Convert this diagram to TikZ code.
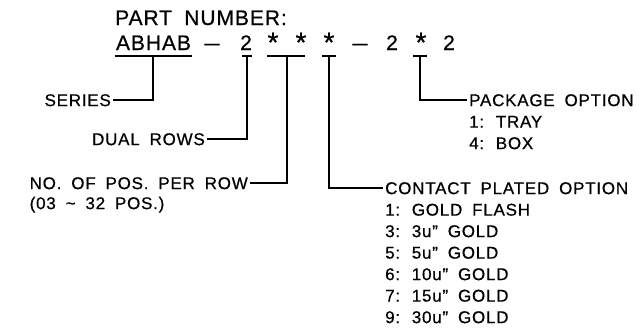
\documentclass[tikz,border=0pt]{standalone}
\usepackage{fontspec}
\setmainfont[LetterSpace=4.5,WordSpace=1.8,FakeBold=0.6]{Liberation Sans}
\begin{document}
\begin{tikzpicture}[x=1pt,y=-1pt,
  lead/.style={line width=1.6pt},
  lbl/.style={inner xsep=2pt, inner ysep=0pt, text height=12.2pt, text depth=0pt,
              font=\fontsize{17}{20}\selectfont},
  big/.style={inner sep=0pt, font=\fontsize{21}{24}\selectfont},
  star/.style={inner sep=0pt, font=\fontsize{28}{30}\selectfont},
  dashchar/.style={big, xscale=1.3}]
\useasboundingbox (0,0) rectangle (644,333);

% title and part number
\node[big, anchor=base west] (title) at (115,25) {PART NUMBER:};
\node[big, anchor=base] (c1) at (153.5,50) {ABHAB};
\node[dashchar, anchor=base] (c2) at (212,50) {–};
\node[big, anchor=base] (c3) at (246,50) {2};
\node[star, anchor=base] (c4) at (273,52) {*};
\node[star, anchor=base] (c5) at (301,52) {*};
\node[star, anchor=base] (c6) at (329,52) {*};
\node[dashchar, anchor=base] (c7) at (360,50) {–};
\node[big, anchor=base] (c8) at (392,50) {2};
\node[star, anchor=base] (c9) at (421,52) {*};
\node[big, anchor=base] (c10) at (449,50) {2};

% bars under the fields
\coordinate (b1l) at (115,56); \coordinate (b1r) at (192,56); \coordinate (b1) at (153,56);
\coordinate (b2l) at (242,56); \coordinate (b2r) at (252,56); \coordinate (b2) at (247,56);
\coordinate (b3l) at (267,56); \coordinate (b3r) at (305,56); \coordinate (b3) at (287,56);
\coordinate (b4l) at (322,56); \coordinate (b4r) at (336,56); \coordinate (b4) at (329,56);
\coordinate (b5l) at (413,56); \coordinate (b5r) at (427,56); \coordinate (b5) at (420,56);
\foreach \i in {1,...,5} { \draw[lead] (b\i l) -- (b\i r); }

% labels
\node[lbl, anchor=east] (series) at (113,100) {SERIES};
\node[lbl, anchor=east] (dual) at (207,139) {DUAL ROWS};
\node[lbl, anchor=east] (nopos) at (250,183) {NO. OF POS. PER ROW};
\node[lbl, anchor=west] (range) at ([yshift=-20pt]nopos.west) {(03 \textasciitilde{} 32 POS.)};

\node[lbl, anchor=west] (pkg) at (467,100) {PACKAGE OPTION};
\node[lbl, anchor=west] (pk1) at ([yshift=-21.5pt]pkg.west) {1: TRAY};
\node[lbl, anchor=west] (pk4) at ([yshift=-21.5pt]pk1.west) {4: BOX};

\node[lbl, anchor=west] (contact) at (383,188) {CONTACT PLATED OPTION};
\node[lbl, anchor=west] (g1) at ([yshift=-21.5pt]contact.west) {1: GOLD FLASH};
\node[lbl, anchor=west] (g3) at ([yshift=-21.5pt]g1.west) {3: 3u” GOLD};
\node[lbl, anchor=west] (g5) at ([yshift=-21.5pt]g3.west) {5: 5u” GOLD};
\node[lbl, anchor=west] (g6) at ([yshift=-21.5pt]g5.west) {6: 10u” GOLD};
\node[lbl, anchor=west] (g7) at ([yshift=-21.5pt]g6.west) {7: 15u” GOLD};
\node[lbl, anchor=west] (g9) at ([yshift=-21.5pt]g7.west) {9: 30u” GOLD};

% leaders
\draw[lead] (b1) |- (series.east);
\draw[lead] (b2) |- (dual.east);
\draw[lead] (b3) |- (nopos.east);
\draw[lead] (b4) |- (contact.west);
\draw[lead] (b5) |- (pkg.west);
\end{tikzpicture}
\end{document}
